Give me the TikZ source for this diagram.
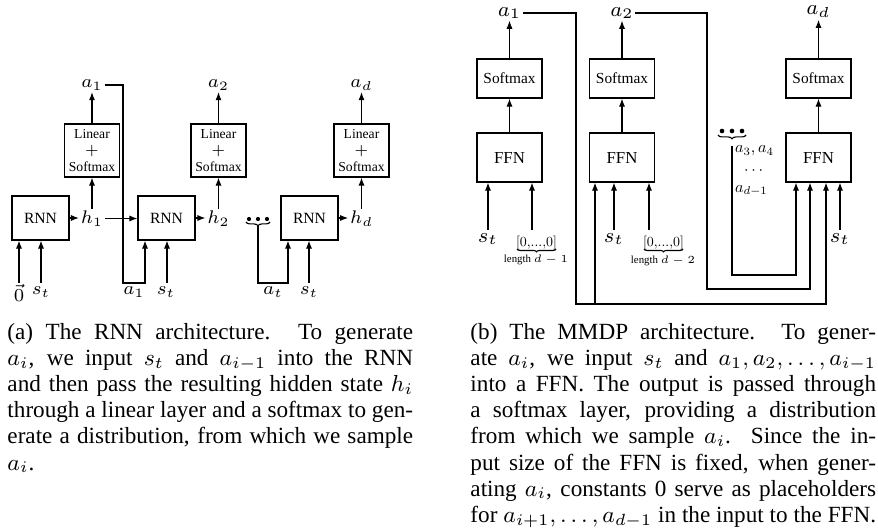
\RequirePackage{fix-cm}
\documentclass[tikz,border=0pt]{standalone}
\usepackage[no-math]{fontspec}
\usepackage{graphicx}
\setmainfont{Liberation Serif}
\usetikzlibrary{arrows.meta,decorations.pathreplacing}
\newlength{\capw}
\setlength{\capw}{166.3pt}
\newcommand{\fullline}[1]{\hbox to \capw{#1}}
\newcommand{\zeros}{\scalebox{0.57}{$[0{,}{\ldotp}{\ldotp}{\ldotp}{,}0]$}}
\newcommand{\smallmath}[1]{\scalebox{0.66}{$#1$}}
\begin{document}
\begin{tikzpicture}[x=0.41pt,y=-0.41pt,
  box/.style={draw,line width=0.45pt,inner sep=0pt},
  rnnbox/.style={box,minimum width=23.37pt,minimum height=18.04pt,font=\fontsize{6.4}{7.7}\selectfont},
  linbox/.style={box,minimum width=22.55pt,minimum height=21.73pt,align=center,font=\fontsize{5.6}{6.8}\selectfont},
  smbox/.style={box,minimum width=26.65pt,minimum height=15.99pt,font=\fontsize{6.3}{7.5}\selectfont},
  ffnbox/.style={box,minimum width=26.65pt,minimum height=20.09pt,font=\fontsize{6.9}{8.3}\selectfont},
  lab/.style={inner sep=0.6pt,font=\fontsize{7.5}{9}\selectfont},
  labr/.style={inner sep=0.6pt,font=\fontsize{8.5}{10}\selectfont},
  zlab/.style={inner sep=0.2pt},
  lenlab/.style={inner sep=0.2pt,font=\fontsize{4.45}{5.5}\selectfont},
  alab/.style={inner sep=0.3pt,anchor=west},
  wire/.style={line width=0.45pt},
  arr/.style={wire,-{Latex[length=3.3pt,width=2.5pt]}},
  brc/.style={wire,decorate,decoration={brace,amplitude=1.6pt}},
  sbrc/.style={wire,decorate,decoration={brace,amplitude=1.2pt}},
  captext/.style={anchor=north west,inner sep=0pt,align=left,font=\fontsize{9.5}{10.7}\selectfont},
]
\useasboundingbox (0,0) rectangle (878,529);

% ================= (a) recurrent network =================
\node[rnnbox] (r1) at (40.5,218) {RNN};
\node[rnnbox] (r2) at (166.5,218) {RNN};
\node[rnnbox] (r3) at (309.5,218) {RNN};
\node[linbox] (l1) at (92,150.5) {Linear\\$+$\\Softmax};
\node[linbox] (l2) at (218.5,150.5) {Linear\\$+$\\Softmax};
\node[linbox] (l3) at (361.5,150.5) {Linear\\$+$\\Softmax};
\node[lab] (h1) at (92,218.5) {$h_1$};
\node[lab] (h2) at (218.5,218.5) {$h_2$};
\node[lab] (hd) at (361.5,218.5) {$h_d$};
\node[lab] (a1) at (92,85) {$a_1$};
\node[lab] (a2) at (218.5,85) {$a_2$};
\node[lab] (ad) at (361.5,85) {$a_d$};

\draw[arr] (r1.east) -- (r1.east -| h1.west);
\draw[arr] (r2.east) -- (r2.east -| h2.west);
\draw[arr] (r3.east) -- (r3.east -| hd.west);
\draw[arr] (h1.north) -- (l1.south);
\draw[arr] (h2.north) -- (l2.south);
\draw[arr] (hd.north) -- (l3.south);
\draw[arr] (l1.north) -- (a1.south);
\draw[arr] (l2.north) -- (a2.south);
\draw[arr] (l3.north) -- (ad.south);
\draw[arr] (h1.east) -- (h1.east -| r2.west);

% inputs below the cells
\node[lab] (z0) at (19,293) {$\vec{0}$};
\node[lab] (st1) at (41,292) {$s_t$};
\node[lab] (a1b) at (134,292) {$a_1$};
\node[lab] (st2) at (166,292) {$s_t$};
\node[lab] (atb) at (273,292) {$a_t$};
\node[lab] (st3) at (309,292) {$s_t$};
\coordinate (i10) at (19,283);
\coordinate (i1s) at (41,283);
\coordinate (i2a) at (145,283);
\coordinate (i2s) at (167,283);
\coordinate (i3a) at (288,283);
\coordinate (i3s) at (309,283);
\coordinate (k1) at (123,283);
\draw[arr] (i10) -- (i10 |- r1.south);
\draw[arr] (i1s) -- (i1s |- r1.south);
\draw[arr] (i2s) -- (i2s |- r2.south);
\draw[arr] (i3s) -- (i3s |- r3.south);
\draw[arr] (a1.east) -| (k1) -- (i2a) -- (i2a |- r2.south);

% skipped steps
\foreach \x in {249,258,267} \fill (\x,219) circle[radius=0.85pt];
\draw[brc] (270,222) -- (246,222);
\coordinate (dl) at (258,226);
\draw[arr] (dl) |- (i3a) -- (i3a |- r3.south);

% ================= (b) feed-forward network =================
\node[smbox] (s1) at (509.5,78.5) {Softmax};
\node[smbox] (s2) at (622,78.5) {Softmax};
\node[smbox] (s3) at (818.5,78.5) {Softmax};
\node[ffnbox] (f1) at (509.5,157.5) {FFN};
\node[ffnbox] (f2) at (622,157.5) {FFN};
\node[ffnbox] (f3) at (818.5,157.5) {FFN};
\node[labr] (o1) at (509.5,13) {$a_1$};
\node[labr] (o2) at (622,13) {$a_2$};
\node[labr] (od) at (818.5,12) {$a_d$};

\draw[arr] (f1) -- (s1);
\draw[arr] (f2) -- (s2);
\draw[arr] (f3) -- (s3);
\draw[arr] (s1) -- (o1);
\draw[arr] (s2) -- (o2);
\draw[arr] (s3) -- (od);

% fed-back outputs
\coordinate (u1) at (576,304);
\coordinate (u1b) at (595,304);
\coordinate (u1c) at (826,304);
\draw[arr] (o1.east) -| (u1) -| (u1c |- f3.south);
\draw[arr] (u1b) -- (u1b |- f2.south);
\coordinate (u2) at (707,289);
\coordinate (u2c) at (810,289);
\draw[arr] (o2.east) -| (u2) -| (u2c |- f3.south);

\foreach \x in {722,732,742} \fill (\x,131) circle[radius=0.95pt];
\draw[brc] (746,135) -- (718,135);
\coordinate (dr) at (732,146);
\coordinate (u3c) at (796,275);
\draw[arr] (dr) |- (u3c) -- (u3c |- f3.south);
\node[alab] (m1) at (734,151) {\smallmath{a_3,a_4}};
\node[alab] (m2) at (743,171) {\smallmath{\cdots}};
\node[alab] (m3) at (734,191) {\smallmath{a_{d-1}}};

% state and zero-padding inputs
\node[labr] (sa) at (488,239) {$s_t$};
\node[labr] (sb) at (614,239) {$s_t$};
\node[labr] (sc) at (840,239) {$s_t$};
\node[zlab] (za) at (536.5,243) {\zeros};
\node[zlab] (zb) at (663.5,243) {\zeros};
\draw[sbrc] ([shift={(19.5,6)}]za.center) -- ([shift={(-19.5,6)}]za.center);
\draw[sbrc] ([shift={(19.5,6)}]zb.center) -- ([shift={(-19.5,6)}]zb.center);
\node[lenlab] (la) at (536,260) {length $d-1$};
\node[lenlab] (lb) at (663,261) {length $d-2$};
\coordinate (j1s) at (488,230);
\coordinate (j1z) at (532,230);
\coordinate (j2s) at (614,230);
\coordinate (j2z) at (649,230);
\coordinate (j3s) at (840,230);
\draw[arr] (j1s) -- (j1s |- f1.south);
\draw[arr] (j1z) -- (j1z |- f1.south);
\draw[arr] (j2s) -- (j2s |- f2.south);
\draw[arr] (j2z) -- (j2z |- f2.south);
\draw[arr] (j3s) -- (j3s |- f3.south);

% ================= captions =================
\node[captext] (capa) at (7,323) {%
\fullline{(a) The RNN architecture.  To generate}\\
\fullline{$a_i$, we input $s_t$ and $a_{i-1}$ into the RNN}\\
\fullline{and then pass the resulting hidden state $h_i$}\\
\fullline{through a linear layer and a softmax to gen-}\\
\fullline{erate a distribution, from which we sample}\\
$a_i$.};
\node[captext] (capb) at (470,323) {%
\fullline{(b) The MMDP architecture.  To gener-}\\
\fullline{ate $a_i$, we input $s_t$ and $a_1,a_2,\ldots,a_{i-1}$}\\
\fullline{into a FFN. The output is passed through}\\
\fullline{a softmax layer, providing a distribution}\\
\fullline{from which we sample $a_i$.  Since the in-}\\
\fullline{put size of the FFN is fixed, when gener-}\\
\fullline{ating $a_i$, constants 0 serve as placeholders}\\
\fullline{for $a_{i+1},\ldots,a_{d-1}$ in the input to the FFN.}};
\end{tikzpicture}
\end{document}
